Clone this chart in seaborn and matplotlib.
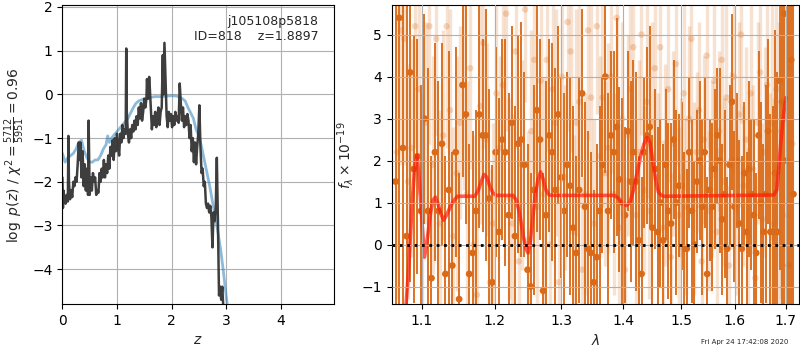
import numpy as np
import pandas as pd
import seaborn as sns
import matplotlib.pyplot as plt

sns.set_style('ticks', {'axes.grid': True, 'grid.color': '#b0b0b0',
                        'axes.edgecolor': 'black', 'xtick.color': 'black',
                        'ytick.color': 'black'})

# ---- p(z) panel ----
z_pz = [0.00, 0.01, 0.02, 0.04, 0.06, 0.08, 0.10, 0.11, 0.12, 0.14, 0.16, 0.18, 0.20, 0.22, 0.24,
        0.26, 0.28, 0.30, 0.32, 0.33, 0.35, 0.37, 0.39, 0.41, 0.43, 0.45, 0.47, 0.48, 0.50, 0.52,
        0.54, 0.56, 0.58, 0.60, 0.62, 0.64, 0.66, 0.68, 0.70, 0.72, 0.74, 0.76, 0.78, 0.80, 0.82,
        0.84, 0.86, 0.88, 0.90, 0.92, 0.94, 0.96, 0.98, 1.00, 1.02, 1.04, 1.06, 1.08, 1.10, 1.12,
        1.14, 1.16, 1.17, 1.18, 1.20, 1.22, 1.24, 1.26, 1.28, 1.30, 1.32, 1.34, 1.36, 1.38, 1.40,
        1.42, 1.44, 1.46, 1.48, 1.50, 1.52, 1.54, 1.55, 1.57, 1.59, 1.60, 1.62, 1.64, 1.66, 1.68,
        1.70, 1.72, 1.74, 1.76, 1.78, 1.80, 1.82, 1.84, 1.85, 1.87, 1.89, 1.91, 1.93, 1.95, 1.97,
        1.99, 2.01, 2.03, 2.05, 2.07, 2.09, 2.11, 2.13, 2.15, 2.17, 2.19, 2.21, 2.23, 2.25, 2.27,
        2.29, 2.31, 2.33, 2.35, 2.37, 2.39, 2.41, 2.43, 2.45, 2.47, 2.49, 2.51, 2.53, 2.55, 2.57,
        2.59, 2.61, 2.63, 2.65, 2.67, 2.69, 2.71, 2.73, 2.75, 2.77, 2.79, 2.81, 2.83, 2.85, 2.87,
        2.89, 2.91, 2.93, 2.95]
logp = [-1.9, -2.6, -2.2, -2.4, -2.5, -2.3, -2.45, -0.95, -2.0, -2.4, -2.2, -2.35, -2.0, -2.1, -1.9,
        -2.0, -1.6, -1.1, -1.5, -1.1, -1.9, -1.3, -2.1, -1.6, -2.2, -1.7, -2.3, -0.6, -2.3, -1.9,
        -2.2, -1.8, -2.0, -1.9, -2.3, -2.2, -2.25, -1.8, -2.0, -1.7, -1.9, -1.5, -1.9, -1.6, -1.8,
        -1.4, -1.7, -1.2, -1.4, -1.05, -1.5, -1.0, -1.3, -0.9, -1.2, -1.4, -0.9, -1.1, -0.7, -1.0,
        -0.8, -0.9, 1.05, -0.4, -0.9, -1.1, -0.8, -1.0, -0.7, -0.85, -0.6, -0.8, -0.5, -0.7, -0.3,
        -0.55, -0.2, -0.6, -0.4, -0.1, -0.3, -0.1, 0.35, -0.1, 0.4, 0.2, -0.3, -0.8, -0.5, -0.7,
        -0.4, -0.75, -0.5, -0.3, -0.7, -0.4, -0.3, 0.9, 0.0, 1.18, 0.3, -0.5, -0.75, -0.4, -0.6,
        -0.45, -0.75, -0.5, -0.7, -0.4, -0.6, -0.5, -0.65, 0.25, -0.2, -0.6, -0.3, -0.75, -0.5, -0.7,
        -0.45, -0.6, -1.0, -0.7, -1.3, -1.0, -1.55, -1.1, -1.6, -1.2, -0.9, -0.25, -1.2, -1.8, -1.7,
        -2.1, -2.0, -2.5, -2.6, -2.5, -2.7, -2.55, -2.8, -3.5, -2.7, -2.9, -2.6, -1.45, -2.9, -4.6,
        -4.4, -4.7, -4.4, -4.9]

z_prior = [0.0, 0.05, 0.1, 0.15, 0.2, 0.25, 0.3, 0.35, 0.4, 0.45, 0.5, 0.55, 0.6, 0.65, 0.7,
           0.75, 0.8, 0.83, 0.86, 0.9, 1.0, 1.1, 1.2, 1.3, 1.35, 1.4, 1.5, 1.6, 1.7, 1.8, 1.9,
           2.0, 2.1, 2.2, 2.25, 2.3, 2.35, 2.4, 2.45, 2.5, 2.55, 2.6, 2.65, 2.7, 2.75, 2.8,
           2.85, 2.9, 2.95, 3.0, 3.05]
logp_prior = [-1.35, -1.55, -1.45, -1.4, -1.35, -1.25, -1.1, -1.05, -1.3, -1.45, -1.55, -1.55,
              -1.5, -1.5, -1.4, -1.25, -1.15, -0.95, -1.1, -1.0, -0.85, -0.7, -0.55, -0.3, -0.2,
              -0.15, -0.1, -0.07, -0.05, -0.05, -0.04, -0.03, -0.04, -0.1, -0.15, -0.3, -0.42,
              -0.55, -0.8, -0.95, -1.2, -1.5, -1.8, -2.1, -2.45, -2.8, -3.15, -3.55, -4.05,
              -4.6, -5.1]

# ---- spectrum panel ----
wave_dark = np.linspace(1.066, 1.716, 140)   # grism pixel grid
flux_dark = [1.5, 5.4, 2.3, 0.2, 4.1, 1.8, 2.1, 0.8, 3.0, 0.8,
             -0.8, 2.2, 0.8, 2.4, -0.7, 1.3, -0.5, 2.2, -1.3, 3.8,
             3.1, -0.7, -0.2, 0.8, 3.1, 2.6, 2.6, 1.1, -0.9, 2.2,
             0.3, 2.5, 2.2, 0.7, 2.9, 0.2, 2.4, 2.5, 1.9, -0.6,
             -1.0, 1.3, 3.2, 2.5, -1.1, 0.7, 2.6, 2.2, 1.3, 3.1,
             1.6, 0.8, 1.9, 1.4, 0.4, -0.2, 1.3, 3.6, 0.9, -0.1,
             -0.2, -0.9, -0.3, 0.8, 1.9, 4.0, 0.8, 2.6, 2.2, 2.8,
             1.55, 1.0, 0.7, 2.7, 1.5, 2.2, 1.5, 0.1, -0.7, 2.2,
             2.6, 2.8, 0.4, 1.8, 0.3, 1.0, 0.1, 1.9, 0.8, 0.5,
             2.5, 1.0, 1.4, 1.4, -0.1, -0.1, 2.2, 0.8, 0.0, 1.5,
             2.0, 0.9, 2.2, -0.7, 1.3, 0.9, 1.8, 2.6, 2.0, 0.6,
             1.2, -0.1, 1.9, 3.4, 0.9, 2.0, 0.5, -0.1, 1.7, 0.3,
             1.8, 1.2, 0.7, -0.2, 2.6, 1.0, 0.3, 1.2, 2.7, 0.3,
             0.3, 1.7, 0.3, 3.9, 3.4, 5.5, 2.0, -0.5, 4.4, 1.2]
err_dark = [9.0, 8.0, 7.0, 6.0, 5.0, 3.2, 2.8, 3.0, 2.5, 3.4,
            2.9, 2.6, 3.1, 2.4, 2.8, 3.3, 2.7, 2.5, 3.0, 2.2,
            2.6, 3.1, 2.9, 2.4, 2.7, 2.3, 3.0, 2.6, 2.8, 2.5,
            3.2, 2.4, 2.7, 2.9, 2.3, 3.1, 2.6, 2.8, 2.2, 3.0,
            2.7, 2.5, 2.9, 2.4, 2.8, 3.2, 2.3, 2.6, 2.9, 2.1,
            2.4, 2.8, 2.2, 2.6, 2.9, 2.3, 2.7, 2.0, 2.5, 2.8,
            2.4, 2.2, 2.7, 2.5, 2.1, 2.3, 2.8, 2.0, 2.4, 2.6,
            2.2, 2.5, 2.1, 1.9, 2.4, 2.2, 2.6, 2.0, 2.3, 1.8,
            2.1, 2.4, 2.2, 1.9, 2.5, 2.0, 2.3, 1.8, 2.1, 2.4,
            1.9, 2.2, 1.7, 2.0, 2.3, 1.9, 1.8, 2.2, 2.0, 1.7,
            1.9, 2.1, 1.8, 2.3, 1.7, 2.0, 1.9, 1.6, 2.2, 1.8,
            2.0, 1.7, 1.9, 2.1, 1.8, 1.6, 2.0, 2.2, 1.7, 1.9,
            2.1, 1.8, 2.3, 1.9, 2.0, 2.4, 2.1, 2.6, 2.2, 2.8,
            3.0, 3.4, 3.8, 4.5, 6.0, 7.0, 8.0, 9.0, 9.0, 9.0]

wave_light = np.linspace(1.068, 1.714, 140)
flux_light = [2.2, 5.1, 4.9, 1.5, 2.3, 5.2, 3.7, 0.9, 2.9, 5.2,
              1.9, 4.9, 0.5, 2.6, 5.2, 3.2, 0.2, 1.7, 2.9, 3.8,
              1.2, 4.2, 0.0, -1.2, 3.3, 4.8, 2.5, -0.9, 0.5, 3.6,
              2.3, 3.8, 5.5, 1.1, 0.5, 4.6, -0.4, 1.9, 5.6, 0.1,
              2.7, 4.4, 0.9, 3.9, 1.2, 4.4, 0.0, 3.7, 2.9, -0.9,
              4.0, 1.6, 5.3, 4.6, 0.3, 2.9, 3.4, -0.6, 1.2, 5.1,
              3.5, 0.5, 5.2, 2.1, 3.5, 1.7, 2.3, 4.0, 1.2, 5.4,
              0.4, 3.0, -0.6, 2.6, 3.7, 4.7, 0.7, 2.2, 5.0, 1.3,
              3.4, 0.8, 2.9, 4.2, 1.6, 4.7, 0.4, 1.9, 3.7, -0.3,
              2.4, 4.3, 0.7, 1.6, 3.6, 0.9, 3.0, 4.9, 1.1, 2.2,
              3.2, -0.4, 2.5, 4.5, 0.8, 1.8, 3.9, 0.3, 2.7, 4.4,
              1.5, 3.5, -0.5, 2.0, 4.0, 0.8, 3.1, 5.0, 1.4, 2.5,
              0.2, 3.6, 1.8, -0.8, 2.9, 4.1, 0.6, 2.2, 3.8, 1.0,
              2.9, 0.5, 3.7, 1.8, 2.7, 5.5, 3.0, 0.7, 4.2, 2.4]
err_light = [3.5, 3.2, 3.0, 2.8, 2.6, 2.9, 2.5, 2.7, 2.4, 2.8,
             2.6, 2.3, 2.7, 2.5, 2.9, 2.4, 2.6, 2.8, 2.3, 2.5,
             2.7, 2.4, 2.6, 2.2, 2.8, 2.5, 2.3, 2.7, 2.4, 2.6,
             2.2, 2.5, 2.8, 2.4, 2.6, 2.3, 2.7, 2.5, 2.2, 2.6,
             2.4, 2.7, 2.3, 2.5, 2.8, 2.2, 2.6, 2.4, 2.7, 2.3,
             2.5, 2.2, 2.6, 2.4, 2.3, 2.7, 2.5, 2.2, 2.4, 2.6,
             2.3, 2.5, 2.1, 2.4, 2.6, 2.2, 2.5, 2.3, 2.4, 2.1,
             2.5, 2.3, 2.2, 2.4, 2.1, 2.5, 2.3, 2.2, 2.4, 2.0,
             2.3, 2.1, 2.4, 2.2, 2.0, 2.3, 2.1, 2.4, 2.2, 2.0,
             2.2, 2.4, 2.1, 1.9, 2.3, 2.1, 2.2, 2.0, 2.3, 1.9,
             2.1, 2.3, 2.0, 2.2, 1.9, 2.1, 2.3, 2.0, 1.9, 2.2,
             2.0, 2.2, 1.9, 2.1, 2.3, 2.0, 2.2, 2.1, 1.9, 2.2,
             2.1, 2.3, 2.0, 2.2, 2.4, 2.1, 2.3, 2.5, 2.2, 2.6,
             2.8, 3.0, 3.2, 3.5, 4.0, 4.5, 5.0, 5.5, 6.0, 6.5]

wave_model = [1.078, 1.083, 1.087, 1.0905, 1.0935, 1.096, 1.100, 1.1035, 1.107, 1.111, 1.1145,
              1.118, 1.121, 1.125, 1.129, 1.133, 1.138, 1.143, 1.148, 1.172, 1.177, 1.181,
              1.185, 1.189, 1.193, 1.198, 1.203, 1.227, 1.232, 1.237, 1.242, 1.246, 1.249,
              1.252, 1.256, 1.260, 1.264, 1.268, 1.272, 1.276, 1.281, 1.286, 1.385, 1.392,
              1.398, 1.405, 1.411, 1.417, 1.423, 1.429, 1.435, 1.440, 1.445, 1.450, 1.455,
              1.460, 1.465, 1.470, 1.676, 1.682, 1.686, 1.690, 1.694, 1.698, 1.701]
flux_model = [-1.8, -0.5, 0.9, 1.8, 2.13, 1.7, 0.6, -0.3, 0.1, 0.7, 1.05,
              1.13, 1.0, 0.75, 0.58, 0.7, 0.9, 1.05, 1.15, 1.15, 1.3, 1.5,
              1.67, 1.6, 1.4, 1.22, 1.17, 1.17, 1.05, 0.7, 0.2, -0.1, -0.2,
              0.0, 0.6, 1.2, 1.55, 1.73, 1.55, 1.3, 1.18, 1.17, 1.17, 1.1,
              0.98, 0.93, 1.0, 1.3, 1.7, 2.1, 2.4, 2.55, 2.45, 2.0, 1.55,
              1.25, 1.17, 1.15, 1.18, 1.3, 1.8, 2.4, 2.9, 3.3, 3.5]

orange = '#da6a17'

fig = plt.figure(figsize=(8, 3.5), dpi=100)
ax1 = fig.add_axes([0.078, 0.131, 0.339, 0.854])
ax2 = fig.add_axes([0.4896, 0.131, 0.5095, 0.854])

# left: p(z)
sns.lineplot(x=z_prior, y=logp_prior, ax=ax1, color='#1f77b4', alpha=0.5, lw=2,
             sort=False, estimator=None)
sns.lineplot(x=z_pz, y=logp, ax=ax1, color='#333333', lw=1.8, alpha=0.95,
             sort=False, estimator=None)
ax1.set_xlim(0, 4.97)
ax1.set_ylim(-4.8, 2.04)
ax1.set_xticks([0, 1, 2, 3, 4])
ax1.set_xlabel('$z$')
ax1.set_ylabel(r'$\log\ p(z)$ / $\chi^2=\frac{5712}{5951}=0.96$')
ax1.text(0.944, 0.968, 'j105108p5818\nID=818    z=1.8897', ha='right', va='top',
         transform=ax1.transAxes, fontsize=9, multialignment='right')

# right: spectrum
ax2.set_xscale('log')
ax2.vlines(wave_light, np.array(flux_light) - np.array(err_light),
           np.array(flux_light) + np.array(err_light), color=orange, alpha=0.2, lw=2.4)
sns.scatterplot(x=wave_light, y=flux_light, ax=ax2, color=orange, alpha=0.25, s=22,
                edgecolor='none')
ax2.vlines(wave_dark, np.array(flux_dark) - np.array(err_dark),
           np.array(flux_dark) + np.array(err_dark), color=orange, alpha=0.95, lw=1.4)
sns.scatterplot(x=wave_dark, y=flux_dark, ax=ax2, color=orange, s=24, edgecolor='none')
sns.lineplot(x=wave_model, y=flux_model, ax=ax2, color='#ff1a0a', alpha=0.7, lw=2.6,
             sort=False, estimator=None)
ax2.axhline(0, color='black', ls=':', lw=2, zorder=5)
ax2.set_xlim(1.061, 1.728)
ax2.set_ylim(-1.42, 5.70)
ax2.set_xticks([1.1, 1.2, 1.3, 1.4, 1.5, 1.6, 1.7])
ax2.set_xticklabels(['1.1', '1.2', '1.3', '1.4', '1.5', '1.6', '1.7'])
ax2.xaxis.set_minor_locator(plt.NullLocator())
ax2.set_yticks([-1, 0, 1, 2, 3, 4, 5])
ax2.set_axisbelow(False)
ax2.set_xlabel(r'$\lambda$')
ax2.set_ylabel(r'$f_\lambda\times10^{-19}$')

for ax in (ax1, ax2):
    ax.grid(True, color='#b0b0b0', lw=0.8)
    for s in ax.spines.values():
        s.set_color('black')
        s.set_linewidth(0.8)

fig.text(0.985, 0.018, 'Fri Apr 24 17:42:08 2020', ha='right', fontsize=5)

plt.savefig('out.png', dpi=100)
